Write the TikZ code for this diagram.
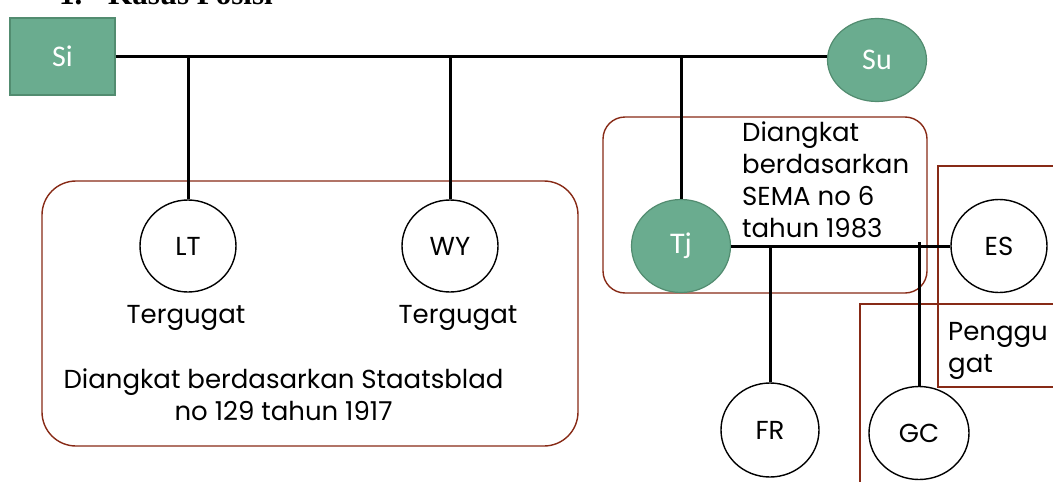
\documentclass[tikz,border=0pt]{standalone}
\usepackage{fontspec}
\setmainfont{Poppins}
\newfontfamily\gnfont{Carlito}
\newfontfamily\headfont{Liberation Serif}
\usetikzlibrary{shapes.geometric,calc}
\definecolor{gfill}{RGB}{106,172,143}
\definecolor{gdraw}{RGB}{82,140,112}
\definecolor{boxred}{RGB}{135,42,22}
\begin{document}
\begin{tikzpicture}[x=1pt,y=-1pt,
  gnode/.style={fill=gfill,draw=gdraw,line width=1.2pt,text=white,font=\gnfont\fontsize{30}{31}\selectfont,inner sep=0pt},
  pnode/.style={ellipse,draw=black,line width=1.4pt,font=\fontsize{26}{27}\selectfont,inner sep=0pt,minimum width=96pt,minimum height=92pt},
  link/.style={line width=3pt,black},
  redbox/.style={draw=boxred,line width=1.4pt},
  txt/.style={font=\fontsize{26}{31.7}\selectfont,inner sep=0pt}]
\useasboundingbox (0,0) rectangle (1053,482);
\clip (0,0) rectangle (1053,482);
% heading (cut off at top)
\node[anchor=base west,inner sep=0pt,font=\headfont\bfseries\fontsize{31}{32}\selectfont] (h1) at (59,4) {1.};
\node[anchor=base west,inner sep=0pt,font=\headfont\bfseries\fontsize{31}{32}\selectfont] (h2) at (108,4) {Kasus Posisi};
% boxes
\draw[redbox,rounded corners=34pt] (42,181) rectangle (578,446);
\draw[redbox,rounded corners=22pt] (603,117) rectangle (927,293);
\draw[redbox] (1060,166) -- (938,166) -- (938,387) -- (1060,387);
\draw[redbox] (1060,304) -- (860,304) -- (860,490);
% nodes
\node[gnode,rectangle,minimum width=105pt,minimum height=77pt] (Si) at (62.5,56.5) {Si};
\node[gnode,ellipse,minimum width=99pt,minimum height=83pt] (Su) at (877,60) {Su};
\node[gnode,ellipse,minimum width=99pt,minimum height=93pt] (Tj) at (681,246) {Tj};
\node[pnode] (LT) at (188,246) {LT};
\node[pnode] (WY) at (450,246) {WY};
\node[pnode,minimum height=93pt] (ES) at (999,246) {ES};
\node[pnode,minimum width=98pt,minimum height=94pt] (FR) at (770,430) {FR};
\node[pnode,minimum width=100pt,minimum height=93pt] (GC) at (919,433) {GC};
% connectors
\draw[link] (Si.east) -- (Si.east -| Su.west);
\draw[link] (LT.north |- Si.east) -- (LT.north);
\draw[link] (WY.north |- Si.east) -- (WY.north);
\draw[link] (Tj.north |- Si.east) -- (Tj.north);
\draw[link] (Tj.east) -- (ES.west);
\draw[link] (FR.north |- Tj.east) -- (FR.north);
\draw[link] ($(GC.north |- Tj.east)+(0,-4)$) -- (GC.north);
% texts (multi-line nodes: base = last line)
\node[txt,anchor=base] (t1) at (186,323) {Tergugat};
\node[txt,anchor=base] (t2) at (458,323) {Tergugat};
\node[txt,anchor=base,align=center] (t3) at (283.5,420) {Diangkat berdasarkan Staatsblad\\no 129 tahun 1917};
\node[txt,anchor=base west,align=left] (t4) at (742,237) {Diangkat\\berdasarkan\\SEMA no 6\\tahun 1983};
\node[txt,anchor=base west,align=left] (t5) at (948,372) {Penggu\\gat};
\end{tikzpicture}
\end{document}
